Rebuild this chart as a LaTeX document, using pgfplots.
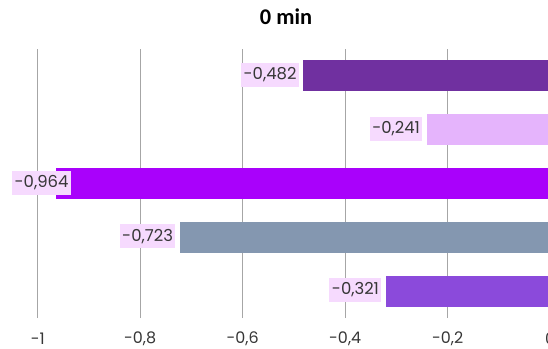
\documentclass[border=0pt]{standalone}
\usepackage{fontspec}
\setmainfont{Poppins}
\newfontfamily\titlefont{Carlito}
\usepackage{pgfplots}
\pgfplotsset{compat=1.18}
\definecolor{cA}{HTML}{7030A0}
\definecolor{cB}{HTML}{E5B4FC}
\definecolor{cC}{HTML}{A901FB}
\definecolor{cD}{HTML}{8497B0}
\definecolor{cE}{HTML}{8B4ADB}
\definecolor{lbl}{HTML}{F6DAFE}
\definecolor{gridc}{HTML}{A6A6A6}
\definecolor{txt}{HTML}{363636}
\begin{document}
\begin{tikzpicture}
\path[use as bounding box, clip] (-37.7bp,-31bp) rectangle (510.3bp,318bp);
\begin{axis}[
  at={(0,0)}, anchor=south west,
  scale only axis, width=512.5bp, height=269bp,
  xmin=-1, xmax=0, ymin=-0.5, ymax=4.5,
  xbar, bar width=31bp, bar shift=0pt,
  axis line style={draw=none},
  xmajorgrids, grid style={gridc, line width=0.75bp},
  major tick length=0pt,
  ytick=\empty,
  xtick={-1,-0.8,-0.6,-0.4,-0.2,0},
  xticklabels={{-1},{-0,8},{-0,6},{-0,4},{-0,2},{0}},
  xticklabel style={font=\fontsize{16}{16}\selectfont, text=txt, anchor=center, yshift=-21bp},
  point meta=explicit symbolic,
  nodes near coords,
  every node near coord/.append style={anchor=east, fill=lbl, font=\fontsize{16.5}{16.5}\selectfont, inner xsep=2.5bp, inner ysep=0pt, minimum height=24bp, text=txt, yshift=1bp},
  title={0 min},
  title style={at={(0.4845,1)}, anchor=center, yshift=26bp, font=\titlefont\bfseries\fontsize{22.5}{22.5}\selectfont},
]
\addplot[fill=cA, draw=none, every node near coord/.append style={xshift=-4bp}] coordinates {(-0.482,4) [-0,482]};
\addplot[fill=cB, draw=none, every node near coord/.append style={xshift=-4bp}] coordinates {(-0.241,3) [-0,241]};
\addplot[fill=cC, draw=none, every node near coord/.append style={xshift=15bp}] coordinates {(-0.964,2) [-0,964]};
\addplot[fill=cD, draw=none, every node near coord/.append style={xshift=-4bp}] coordinates {(-0.723,1) [-0,723]};
\addplot[fill=cE, draw=none, every node near coord/.append style={xshift=-4bp}] coordinates {(-0.321,0) [-0,321]};
\end{axis}
\end{tikzpicture}
\end{document}
